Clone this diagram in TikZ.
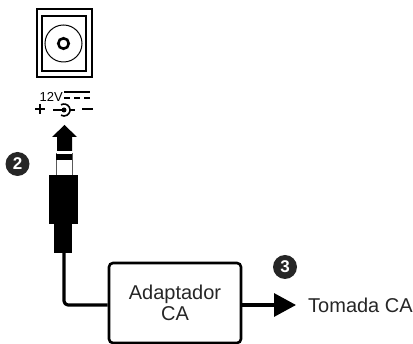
\documentclass[tikz,border=0pt]{standalone}
\usepackage{fontspec}
\setmainfont{Liberation Sans}
\usetikzlibrary{arrows.meta}
\tikzset{
  wire/.style={line width=3.2pt, line join=round},
  badge/.style={circle, fill=black!85, text=white, inner sep=0pt, minimum size=24pt, font=\bfseries\fontsize{17}{17}\selectfont},
  label/.style={font=\fontsize{20}{21}\selectfont, text=black!85, align=center}
}
\begin{document}
\begin{tikzpicture}[x=1pt, y=-1pt]
      \useasboundingbox (0,0) rectangle (413,344);
      % socket
      \draw[line width=1.2pt] (37,9) rectangle (92,77);
      \draw[line width=2.5pt] (42,16) rectangle (86,71);
      \node[circle, draw, line width=1pt, minimum size=37pt, inner sep=0pt] (ring) at (63.5,43.5) {};
      \node[circle, draw, line width=2.6pt, minimum size=10.5pt, inner sep=0pt] (hole) at (63.5,43.5) {};
      % polarity
      \node[font=\fontsize{13}{13}\selectfont, inner sep=0pt, anchor=base west] (volt) at (39.5,101.5) {12V};
      \draw[line width=1.2pt] (64,92) -- (90,92);
      \draw[line width=1.2pt, dash pattern=on 6pt off 4pt] (64,98) -- (90,98);
      \draw[line width=1.6pt] (35,109) -- (45,109) (40,104) -- (40,114);
      \draw[line width=1.6pt] (82,109) -- (93,109);
      \draw[line width=1.6pt] (53,110) -- (64,110);
      \node[circle, fill, inner sep=0pt, minimum size=5pt] (pin) at (64,110) {};
      \draw[line width=1.6pt] (61,104.8) arc (120:-120:6pt);
      \draw[line width=1.6pt] (70,110) -- (75,110);
      % plug
      \fill (64.5,125) -- (77,137) -- (72,137) -- (72,151) -- (57,151) -- (57,137) -- (52,137) -- cycle;
      \draw[black!65, line width=1pt] (56,153) -- (56,175) (72,153) -- (72,175);
      \fill (56,154) rectangle (72,160);
      \fill (49,175) rectangle (78,224);
      \fill (54,224) rectangle (72,253);
      \coordinate (plugend) at (64,253);
      % adapter
      \node[draw, line width=2.6pt, rounded corners=4pt, minimum width=132pt, minimum height=80pt, label] (adapter) at (175,303) {Adaptador\\CA};
      \coordinate (outlet) at (296,305);
      \draw[wire, rounded corners=4pt] (plugend) |- (adapter.west |- outlet);
      \draw[wire, -{Triangle[length=22pt, width=23pt]}] (adapter.east |- outlet) -- (outlet);
      \node[label, anchor=west, inner sep=0pt] (tomada) at (308,305) {Tomada CA};
      % numbers
      \node[badge] (two) at (17.5,164) {2};
      \node[badge] (three) at (285,267) {3};
\end{tikzpicture}
\end{document}
